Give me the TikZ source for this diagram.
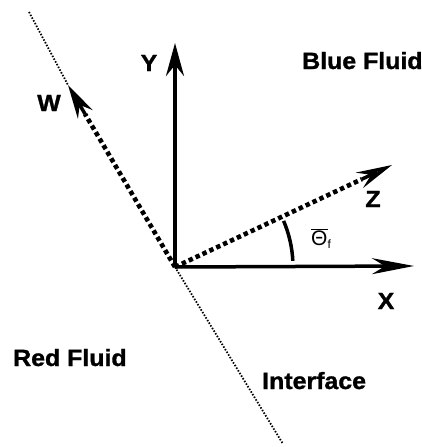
\documentclass[tikz,border=0pt]{standalone}
\usepackage{fontspec}
\setmainfont{Liberation Sans}[BoldFeatures={FakeBold=1.2}]
\usetikzlibrary{arrows.meta,calc}
\newcommand{\wide}[1]{\scalebox{1.06}[1]{#1}}
\begin{document}
\begin{tikzpicture}[x=1pt,y=-1pt,
  axis/.style={line width=3.5pt},
  thickdots/.style={line width=4.6pt, dash pattern=on 4.4pt off 3.2pt},
  thindots/.style={line width=1.8pt, dash pattern=on 1.5pt off 1.6pt},
  lbl/.style={font=\fontsize{23.5}{26}\selectfont\bfseries, inner sep=0pt},
]
\useasboundingbox (0,0) rectangle (422,447);
\coordinate (O) at (175,267);
\coordinate (Ytip) at (175,43);
\coordinate (Xtip) at (414,266);
\coordinate (Ztip) at (392,165);
\coordinate (Wtip) at (68,85);
\coordinate (Itop) at (29,12);
\coordinate (Ibot) at (283,444);
\coordinate (Zmid) at ($(O)!0.86!(Ztip)$);
\coordinate (Wmid) at ($(O)!0.84!(Wtip)$);
% interface
\draw[thindots] (Itop) -- (Wtip);
\draw[thindots] (O) -- (Ibot);
% axes
\draw[axis, -{Stealth[length=33pt, width=18pt, inset=11pt]}] (O) -- (Ytip);
\draw[axis, -{Stealth[length=42pt, width=16pt, inset=13pt]}] (O) -- (Xtip);
% dotted vectors
\draw[thickdots] (O) -- (Zmid);
\draw[line width=3.5pt, -{Stealth[length=36pt, width=17pt, inset=13pt, open]}] (Zmid) -- (Ztip);
\draw[thickdots] (O) -- (Wmid);
\draw[line width=3.5pt, -{Stealth[length=34pt, width=17pt, inset=11pt]}] (Wmid) -- (Wtip);
% angle
\draw[line width=3.5pt] (O) ++(-3:118) arc[start angle=-3, end angle=-23, radius=118];
\node[inner sep=0pt, anchor=base west, font=\fontsize{21}{23}\selectfont] (th) at (311,245) {$\overline{\mbox{Θ}}_{\mbox{\fontsize{12}{13}\selectfont f}}$};
% labels
\node[lbl, anchor=base west] (blue) at (302,69) {\wide{Blue Fluid}};
\node[lbl, anchor=base west] (red) at (13,366) {\wide{Red Fluid}};
\node[lbl, anchor=base west] (iface) at (262,389) {\wide{Interface}};
\node[lbl] (ylab) at (149,63) {\wide{Y}};
\node[lbl] (wlab) at (49,103) {\wide{W}};
\node[lbl] (xlab) at (386,301) {\wide{X}};
\node[lbl] (zlab) at (373,199) {\wide{Z}};
\end{tikzpicture}
\end{document}
